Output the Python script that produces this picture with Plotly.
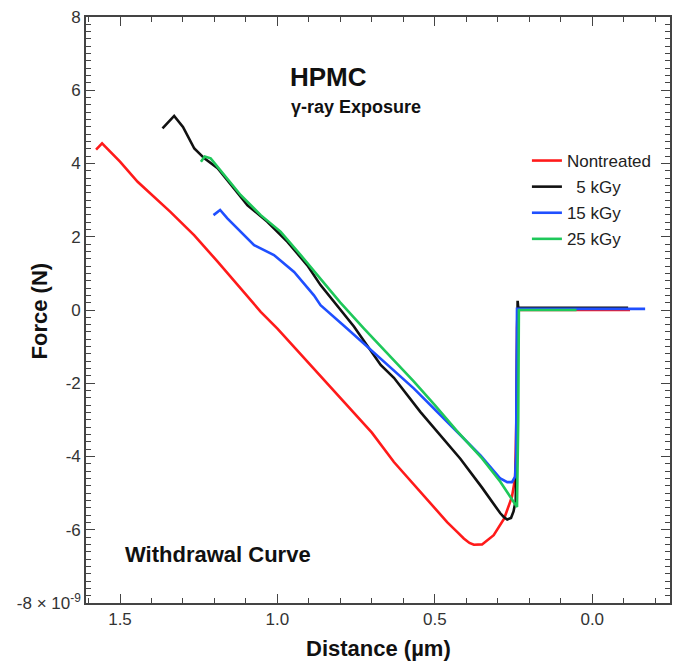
import plotly.graph_objects as go

# ---- data (distance in µm, force in units of 1e-9 N) ----
series_names = ["Nontreated", "\u20075 kGy", "15 kGy", "25 kGy"]
series_colors = ["#ff1a1a", "#111111", "#1f4fff", "#1ec85a"]

x_nontreated = [1.576, 1.557, 1.50, 1.444, 1.34, 1.264, 1.19, 1.117, 1.053, 1.0, 0.90, 0.778,
                0.70, 0.63, 0.55, 0.461, 0.43, 0.408, 0.39, 0.376, 0.35, 0.313, 0.28, 0.255,
                0.245, 0.241, 0.239, 0.237, 0.20, 0.10, 0.0, -0.12]
y_nontreated = [4.38, 4.55, 4.05, 3.50, 2.68, 2.04, 1.32, 0.59, -0.05, -0.51, -1.45, -2.60,
                -3.35, -4.15, -4.92, -5.79, -6.05, -6.24, -6.36, -6.41, -6.40, -6.15, -5.70, -5.10,
                -4.60, -3.0, -0.5, 0.0, 0.0, 0.0, 0.0, 0.0]

x_5kgy = [1.365, 1.328, 1.30, 1.264, 1.232, 1.19, 1.138, 1.095, 1.032, 0.968, 0.905, 0.863,
          0.757, 0.672, 0.63, 0.546, 0.419, 0.35, 0.292, 0.281, 0.27, 0.258, 0.25, 0.243,
          0.240, 0.238, 0.237, 0.235, 0.22, 0.10, -0.114]
y_5kgy = [4.96, 5.30, 5.00, 4.41, 4.14, 3.87, 3.32, 2.86, 2.41, 1.86, 1.22, 0.68,
          -0.45, -1.50, -1.85, -2.78, -4.06, -4.85, -5.55, -5.65, -5.72, -5.68, -5.50, -5.20,
          -3.0, -0.5, 0.25, 0.06, 0.06, 0.06, 0.06]

x_15kgy = [1.203, 1.182, 1.159, 1.117, 1.074, 1.011, 0.947, 0.884, 0.863, 0.778, 0.672, 0.567,
           0.461, 0.355, 0.292, 0.27, 0.255, 0.245, 0.242, 0.240, 0.239, 0.20, 0.10, 0.0, -0.168]
y_15kgy = [2.59, 2.73, 2.50, 2.14, 1.77, 1.50, 1.04, 0.40, 0.13, -0.51, -1.33, -2.14,
           -3.05, -3.97, -4.60, -4.70, -4.70, -4.55, -4.0, -1.0, 0.03, 0.03, 0.03, 0.03, 0.03]

x_25kgy = [1.243, 1.231, 1.212, 1.169, 1.117, 1.053, 0.99, 0.926, 0.863, 0.80, 0.725, 0.672,
           0.567, 0.50, 0.43, 0.35, 0.292, 0.239, 0.235, 0.233, 0.20, 0.05]
y_25kgy = [4.05, 4.19, 4.14, 3.68, 3.14, 2.59, 2.14, 1.50, 0.86, 0.20, -0.51, -1.00,
           -1.95, -2.60, -3.30, -4.05, -4.69, -5.38, -3.0, 0.0, 0.0, 0.0]

x_series = [x_nontreated, x_5kgy, x_15kgy, x_25kgy]
y_series = [y_nontreated, y_5kgy, y_15kgy, y_25kgy]

y_tickvals = [-8, -6, -4, -2, 0, 2, 4, 6, 8]
y_ticktext = ["-8 \u00d7 10<sup>-9</sup>", "-6", "-4", "-2", "0", "2", "4", "6", "8"]
x_tickvals = [1.5, 1.0, 0.5, 0.0]
x_ticktext = ["1.5", "1.0", "0.5", "0.0"]

FONT = "Arial, Liberation Sans, Helvetica, sans-serif"
AXIS_COLOR = "#444444"
TICKFONT_COLOR = "#333333"

fig = go.Figure()
for name, color, xs, ys in zip(series_names, series_colors, x_series, y_series):
    fig.add_trace(go.Scatter(
        x=xs, y=ys, mode="lines", name=name, legendgroup=name,
        line=dict(color=color, width=2.6),
    ))

axis_common = dict(
    showline=True, linecolor=AXIS_COLOR, linewidth=1.6,
    mirror="allticks", ticks="inside", tickcolor=AXIS_COLOR, tickwidth=1.4,
    showgrid=False, zeroline=False,
    tickfont=dict(family=FONT, size=17, color=TICKFONT_COLOR),
)

fig.update_xaxes(
    range=[1.608, -0.247], tickvals=x_tickvals, ticktext=x_ticktext, ticklen=9,
    minor=dict(dtick=0.1, tick0=0, ticks="inside", ticklen=5, tickcolor=AXIS_COLOR, tickwidth=1.2),
    **axis_common,
)
fig.update_yaxes(
    range=[-8, 8], tickvals=y_tickvals, ticktext=y_ticktext, ticklen=9,
    minor=dict(dtick=0.2, tick0=0, ticks="inside", ticklen=5, tickcolor=AXIS_COLOR, tickwidth=1.2),
    **axis_common,
)

annotations = [
    dict(text="<b>HPMC</b>", x=0.416, y=0.897, font=dict(size=26)),
    dict(text="<b>\u03b3-ray Exposure</b>", x=0.4615, y=0.846, font=dict(size=18)),
    dict(text="<b>Withdrawal Curve</b>", x=0.226, y=0.082, font=dict(size=22)),
    dict(text="<b>Force (N)</b>", x=-0.079, y=0.499, textangle=-90, font=dict(size=22)),
    dict(text="<b>Distance (\u00b5m)</b>", x=0.5, y=-0.077, font=dict(size=22)),
]
for a in annotations:
    a.update(xref="paper", yref="paper", showarrow=False, xanchor="center", yanchor="middle")
    a["font"].update(family=FONT, color="#111111")

fig.update_layout(
    width=675, height=662,
    margin=dict(l=86, r=5, t=17, b=59, autoexpand=False),
    paper_bgcolor="white", plot_bgcolor="white",
    font=dict(family=FONT),
    showlegend=True,
    legend=dict(
        x=0.755, y=0.785, xanchor="left", yanchor="top",
        bgcolor="rgba(0,0,0,0)", borderwidth=0,
        font=dict(family=FONT, size=17, color="#222222"),
        tracegroupgap=1, itemwidth=30,
    ),
    annotations=annotations,
)

fig.write_html(
    "out.html",
    config={"displayModeBar": False},
    post_script="document.body.style.margin='0';document.body.style.overflow='hidden';",
)
